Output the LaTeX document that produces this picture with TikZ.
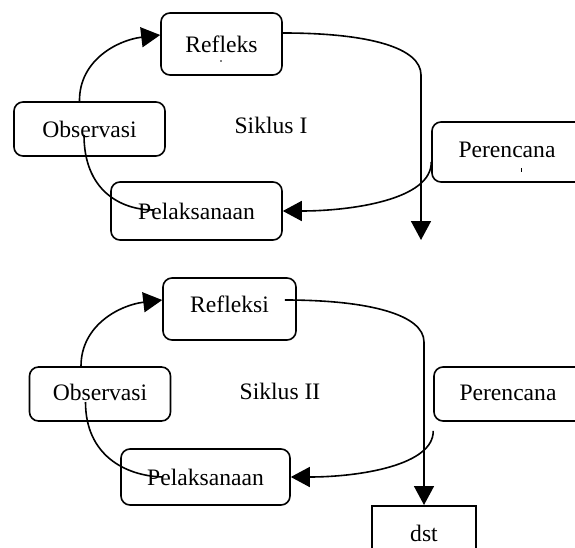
\documentclass[tikz,border=0pt]{standalone}
\usepackage{fontspec}
\setmainfont{Liberation Serif}
\usetikzlibrary{arrows.meta}
\begin{document}
\begin{tikzpicture}[x=1pt,y=-1pt,
  txt/.style={font=\fontsize{23.6}{28}\selectfont},
  box/.style={txt, draw, line width=1.6pt, rounded corners=9pt, inner sep=0pt},
  sqbox/.style={txt, draw, line width=1.6pt, inner sep=0pt},
  lbl/.style={txt, inner sep=0pt},
  conn/.style={line width=1.6pt},
  arr/.style={conn, -{Triangle[length=19pt,width=20pt]}}]
\useasboundingbox (0,0) rectangle (575,548);
% ---- Siklus I ----
\node[box, minimum width=121, minimum height=62] (ref1) at (221.5,44) {Refleks};
\fill (221,61) circle (0.9pt);
\node[box, minimum width=151, minimum height=54] (obs1) at (89.5,129) {Observasi};
\node[lbl] (sik1) at (271,125) {Siklus I};
\node[box, minimum width=200, minimum height=60] (per1) at (532,152) {\raisebox{4pt}{Perencana}\hspace*{50pt}};
\fill (521,168) rectangle (522.2,172);
\node[box, minimum width=171, minimum height=58] (pel1) at (196.5,211) {Pelaksanaan};
\coordinate (end1) at (421,240);
\draw[arr] ([yshift=11pt]ref1.east) .. controls (370,33) and (421,48) .. (421,75) -- (end1);
\draw[arr] ([xshift=-10pt]obs1.north) .. controls (79,60) and (118,40) .. ([yshift=9pt]ref1.west);
\draw[conn] ([xshift=-5.5pt,yshift=-6pt]obs1.center) .. controls (84,190) and (120,210) .. ([xshift=-42.5pt,yshift=1pt]pel1.center);
\draw[arr] ([yshift=-10pt]per1.west) .. controls (432,200) and (350,211) .. (pel1.east);
% ---- Siklus II ----
\node[box, minimum width=133, minimum height=62] (ref2) at (229.5,309) {\raisebox{9pt}{Refleksi}};
\node[box, minimum width=141, minimum height=54] (obs2) at (100,394) {\raisebox{3pt}{Observasi}};
\node[lbl] (sik2) at (280,391) {Siklus II};
\node[box, minimum width=200, minimum height=54] (per2) at (534,394) {\raisebox{3pt}{Perencana}\hspace*{52pt}};
\node[box, minimum width=169, minimum height=56] (pel2) at (205.5,477) {Pelaksanaan};
\node[sqbox, minimum width=104, minimum height=60, anchor=north] (dst) at (424,505) {\raisebox{5pt}{dst}};
\draw[arr] ([xshift=-12pt,yshift=9pt]ref2.east) .. controls (370,300) and (424,315) .. (424,342) -- (dst.north);
\draw[arr] ([xshift=-19pt]obs2.north) .. controls (81,325) and (120,305) .. ([yshift=9pt]ref2.west);
\draw[conn] ([xshift=-14.5pt,yshift=-8pt]obs2.center) .. controls (85.5,455) and (125,476) .. ([xshift=-42.5pt]pel2.center);
\draw[arr] ([yshift=-9pt]per2.south west) .. controls (434,465) and (360,477) .. (pel2.east);
\end{tikzpicture}
\end{document}
